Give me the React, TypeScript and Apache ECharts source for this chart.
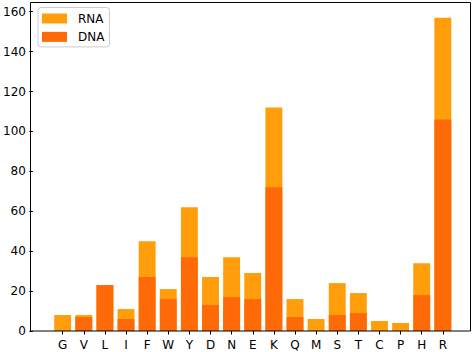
import React, { useEffect, useRef } from "react";
import * as echarts from "echarts";

const categories = ["G", "V", "L", "I", "F", "W", "Y", "D", "N", "E", "K", "Q", "M", "S", "T", "C", "P", "H", "R"];
const rnaValues = [8, 8, 23, 11, 45, 21, 62, 27, 37, 29, 112, 16, 6, 24, 19, 5, 4, 34, 157];
const dnaValues = [0, 7, 23, 6, 27, 16, 37, 13, 17, 16, 72, 7, 0, 8, 9, 0, 0, 18, 106];
const yTicks = [0, 20, 40, 60, 80, 100, 120, 140, 160];

const RNA_COLOR = "#ff9e0a";
const DNA_COLOR = "#ff6a08";
const FONT = "DejaVu Sans";

export default function App() {
  const ref = useRef<HTMLDivElement>(null);
  useEffect(() => {
    document.body.style.margin = "0";
    if (!ref.current) return;
    const chart = echarts.init(ref.current, null, { renderer: "svg" });
    const yMax = Math.max(...rnaValues) * 1.05;
    chart.setOption({
      animation: false,
      backgroundColor: "#fff",
      textStyle: { fontFamily: FONT },
      grid: { left: 49.2, right: 21.6, top: 2, bottom: 21, containLabel: false },
      legend: {
        left: 38,
        top: 7.5,
        orient: "vertical",
        itemWidth: 25,
        itemHeight: 10,
        itemGap: 6.4,
        padding: [5, 5, 4, 4],
        icon: "rect",
        borderColor: "#cccccc",
        borderWidth: 1,
        borderRadius: 3,
        backgroundColor: "rgba(255,255,255,0.8)",
        textStyle: { fontFamily: FONT, fontSize: 12, color: "#000", lineHeight: 12, padding: [0, 0, 0, 6] },
        data: ["RNA", "DNA"],
      },
      xAxis: {
        type: "category",
        data: categories,
        boundaryGap: true,
        axisLine: { show: false },
        axisTick: { show: true, alignWithLabel: true, length: 3.5, lineStyle: { color: "#000" } },
        axisLabel: { color: "#000", fontFamily: FONT, fontSize: 12, margin: 8 },
        splitLine: { show: false },
      },
      yAxis: {
        type: "value",
        min: 0,
        max: yMax,
        offset: 19.2,
        axisLine: { show: false },
        axisTick: { show: true, length: 3.5, lineStyle: { color: "#000" }, customValues: yTicks },
        axisLabel: {
          color: "#000",
          fontFamily: FONT,
          fontSize: 12,
          margin: 7,
          customValues: yTicks,
          formatter: (v: number) => (yTicks.includes(v) ? String(v) : ""),
        },
        splitLine: { show: false },
      },
      graphic: [
        {
          type: "rect",
          z: 100,
          shape: { x: 30.5, y: 2.5, width: 440, height: 328.5 },
          style: { fill: "none", stroke: "#000", lineWidth: 1 },
          silent: true,
        },
      ],
      series: [
        {
          name: "RNA",
          type: "bar",
          data: rnaValues,
          barWidth: "80%",
          barGap: "-100%",
          itemStyle: { color: RNA_COLOR },
        },
        {
          name: "DNA",
          type: "bar",
          data: dnaValues,
          barWidth: "80%",
          barGap: "-100%",
          itemStyle: { color: DNA_COLOR },
        },
      ],
    });
    return () => chart.dispose();
  }, []);
  return <div ref={ref} style={{ width: 475, height: 352 }} />;
}
